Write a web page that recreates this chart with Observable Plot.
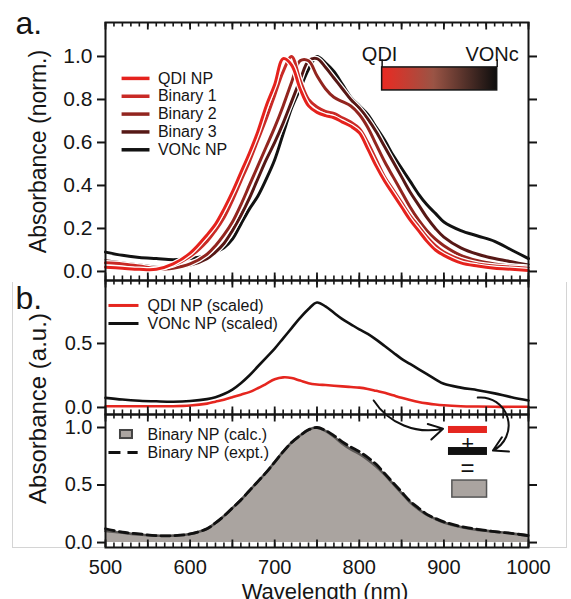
<!DOCTYPE html>
<html><head><meta charset="utf-8">
<script src="https://cdn.jsdelivr.net/npm/d3@7"></script>
<script src="https://cdn.jsdelivr.net/npm/@observablehq/plot@0.6"></script>
<style>
html,body{margin:0;padding:0;background:#fff;}
#fig{position:relative;width:571px;height:599px;overflow:hidden;background:#fff;}
#fig svg{position:absolute;left:0;}
#crop{position:absolute;left:12px;top:282px;width:553px;height:265px;border:1px solid #d4d4d4;border-top:none;}
</style></head><body><div id="fig"><div id="crop"></div></div>
<script>
// ---------- data ----------
const wavelength = [500,520,540,560,580,600,620,630,640,650,660,670,680,690,700,710,720,730,740,750,760,770,780,790,800,810,820,830,840,850,860,870,880,890,900,920,940,960,980,1000];
// panel a (normalized)
const qdiNP   = [0.02,0.015,0.01,0.01,0.035,0.085,0.17,0.22,0.29,0.37,0.46,0.55,0.65,0.77,0.87,0.99,0.96,0.85,0.77,0.74,0.725,0.715,0.695,0.675,0.645,0.57,0.49,0.42,0.36,0.30,0.24,0.19,0.14,0.10,0.075,0.04,0.025,0.015,0.01,0.005];
const binary1 = [0.04,0.035,0.025,0.015,0.03,0.07,0.14,0.19,0.25,0.33,0.42,0.51,0.61,0.71,0.82,0.93,1.0,0.89,0.80,0.765,0.745,0.735,0.715,0.695,0.665,0.60,0.52,0.44,0.38,0.32,0.26,0.21,0.16,0.12,0.09,0.055,0.035,0.025,0.02,0.015];
const binary2 = [0.03,0.025,0.015,0.01,0.015,0.035,0.08,0.12,0.17,0.23,0.31,0.40,0.49,0.58,0.67,0.77,0.88,0.98,0.98,0.91,0.85,0.81,0.79,0.77,0.73,0.67,0.59,0.51,0.44,0.37,0.30,0.24,0.19,0.15,0.12,0.075,0.05,0.035,0.025,0.02];
const binary3 = [0.05,0.04,0.03,0.02,0.02,0.03,0.06,0.09,0.13,0.19,0.26,0.34,0.43,0.52,0.60,0.69,0.79,0.89,0.98,0.99,0.95,0.90,0.85,0.80,0.76,0.71,0.65,0.58,0.51,0.44,0.37,0.31,0.25,0.20,0.16,0.11,0.08,0.06,0.045,0.03];
const voncNP  = [0.09,0.075,0.065,0.06,0.055,0.06,0.075,0.09,0.11,0.15,0.22,0.29,0.35,0.43,0.52,0.64,0.76,0.85,0.94,1.0,0.97,0.93,0.87,0.81,0.77,0.73,0.67,0.61,0.54,0.48,0.42,0.36,0.31,0.27,0.23,0.19,0.165,0.14,0.10,0.06];
// panel b (scaled)
const qdiScaled  = [0.01,0.01,0.01,0.01,0.01,0.015,0.03,0.045,0.06,0.08,0.10,0.12,0.15,0.185,0.22,0.235,0.23,0.21,0.19,0.18,0.175,0.17,0.165,0.16,0.155,0.145,0.13,0.115,0.095,0.075,0.058,0.043,0.032,0.023,0.017,0.01,0.007,0.005,0.005,0.005];
const voncScaled = [0.075,0.062,0.053,0.048,0.045,0.05,0.065,0.08,0.105,0.14,0.19,0.25,0.32,0.39,0.46,0.54,0.62,0.70,0.77,0.82,0.79,0.74,0.69,0.65,0.61,0.575,0.53,0.48,0.43,0.38,0.34,0.30,0.26,0.22,0.185,0.155,0.135,0.11,0.08,0.055];
// panel c (binary)
const binaryCalc = [0.10,0.085,0.07,0.06,0.06,0.075,0.12,0.17,0.23,0.30,0.37,0.45,0.53,0.61,0.70,0.79,0.87,0.93,0.98,1.0,0.97,0.92,0.86,0.81,0.77,0.72,0.66,0.59,0.51,0.43,0.35,0.29,0.24,0.205,0.175,0.135,0.11,0.095,0.08,0.06];
const binaryExpt = [0.12,0.09,0.075,0.06,0.06,0.075,0.12,0.17,0.23,0.30,0.37,0.45,0.53,0.61,0.70,0.79,0.87,0.93,0.98,1.0,0.975,0.93,0.875,0.83,0.79,0.74,0.68,0.60,0.52,0.44,0.36,0.30,0.245,0.21,0.18,0.14,0.115,0.095,0.08,0.06];

const seriesA = ["QDI NP","Binary 1","Binary 2","Binary 3","VONc NP"];
const seriesB = ["QDI NP (scaled)","VONc NP (scaled)"];
const seriesC = ["Binary NP (calc.)","Binary NP (expt.)"];
const ticksA = [0,0.2,0.4,0.6,0.8,1.0];
const ticksB = [0,0.5];
const ticksC = [0,0.5,1.0];
const xLabels = [500,600,700,800,900,1000];
const colorbarLabels = ["QDI","VONc"];

// ---------- styles ----------
const FONT = "'Liberation Sans', Arial, Helvetica, sans-serif";
const INK = "#151515";
const colorsA = ["#e5221d","#c92a26","#92251f","#561816","#121212"];
const RED = "#e5261f", GRAY = "#aaa4a0", EDGE = "#5a5755";
const minorX = d3.range(500, 1001, 10);
const majorX = d3.range(500, 1001, 50);
const rows = (vals, name) => wavelength.map((wl, i) => ({wl, v: vals[i], name}));
const fig = document.getElementById("fig");

function frameMarks(yTicks, yDomain, innerH, tickFont) {
  const blank = () => "";
  const [y0, y1] = yDomain;
  const unit = (y1 - y0) / innerH; // data units per pixel
  const inward = (ticks, len, side, sw) =>
    Plot.ruleX(ticks, {x: d => d,
      y1: side === "top" ? y1 : y0,
      y2: side === "top" ? y1 - len * unit : y0 + len * unit,
      stroke: INK, strokeWidth: sw});
  return [
    inward(minorX, 4.5, "top", 1.6),
    inward(majorX, 7.5, "top", 1.8),
    inward(minorX, 4.5, "bottom", 1.6),
    inward(majorX, 7.5, "bottom", 1.8),
    Plot.axisY(yTicks, {anchor: "left", tickSize: 8, tickPadding: 5, tickFormat: ".1f", label: null, fontSize: tickFont, strokeWidth: 2, stroke: INK, fill: INK}),
    Plot.axisY(yTicks, {anchor: "right", tickSize: 8, tickFormat: blank, label: null, strokeWidth: 2, stroke: INK}),
    Plot.frame({stroke: INK, strokeWidth: 2})
  ];
}

function panel({top, height, marginTop, marginBottom, yDomain, yTicks, tickFont, marks}) {
  const innerH = height - marginTop - marginBottom;
  const svg = Plot.plot({
    width: 571, height, marginLeft: 105, marginRight: 43, marginTop, marginBottom,
    x: {domain: [500, 1000], axis: null, label: null},
    y: {domain: yDomain, axis: null, label: null},
    color: {type: "identity"},
    style: {fontFamily: FONT, color: INK, background: "transparent", overflow: "visible"},
    marks: [...marks, ...frameMarks(yTicks, yDomain, innerH, tickFont)]
  });
  svg.style.position = "absolute";
  svg.style.top = top + "px";
  svg.style.left = "0px";
  fig.appendChild(svg);
  return svg;
}

// ---------- panel a ----------
const valuesA = [qdiNP, binary1, binary2, binary3, voncNP];
const dataA = seriesA.map((name, k) => rows(valuesA[k], name));
const lineMarksA = [4,3,2,1,0].flatMap(k => [
  Plot.line(dataA[k], {x: "wl", y: "v", stroke: "white", strokeWidth: 5.5, curve: "catmull-rom"}),
  Plot.line(dataA[k], {x: "wl", y: "v", stroke: colorsA[k], strokeWidth: 3, curve: "catmull-rom"})
]);
const legA = seriesA.map((name, i) => ({name, color: colorsA[i], y: 0.898 - i * 0.083}));
const svgA = panel({
  top: 0, height: 300, marginTop: 22, marginBottom: 20,
  yDomain: [-0.042, 1.158], yTicks: ticksA, tickFont: 21,
  marks: [
    ...lineMarksA,
    Plot.link(legA, {x1: 519, x2: 552, y1: "y", y2: "y", stroke: "color", strokeWidth: 3.5}),
    Plot.text(legA, {x: 562, y: "y", text: "name", textAnchor: "start", fontSize: 16, fill: INK}),
    Plot.rect([0], {x1: 827, x2: 963, y1: 0.842, y2: 0.949, fill: "url(#qdiVoncGrad)", stroke: INK, strokeWidth: 1.5}),
    Plot.ruleX([827, 963], {y1: 0.949, y2: 0.985, stroke: INK, strokeWidth: 1.5}),
    Plot.text(colorbarLabels, {x: (d, i) => i ? 957 : 824, y: 1.01, text: d => d, fontSize: 20, fill: INK}),
    Plot.text(["a."], {text: d => d, frameAnchor: "top-left", dx: -90, dy: 11, textAnchor: "start", lineAnchor: "bottom", fontSize: 32, fill: INK}),
    Plot.text(["Absorbance (norm.)"], {text: d => d, frameAnchor: "left", dx: -67, rotate: -90, textAnchor: "middle", lineAnchor: "middle", fontSize: 23, fill: INK})
  ]
});
d3.select(svgA).append("defs").html(
  `<linearGradient id="qdiVoncGrad" x1="0" x2="1" y1="0" y2="0">
     <stop offset="0" stop-color="#ea2a22"/>
     <stop offset="0.45" stop-color="#9a5445"/>
     <stop offset="1" stop-color="#0e0e0e"/>
   </linearGradient>`);

// ---------- panel b ----------
const dataB = [rows(qdiScaled, seriesB[0]), rows(voncScaled, seriesB[1])];
const colorsB = [RED, "#111"];
const legB = seriesB.map((name, i) => ({name, color: colorsB[i], y: 0.797 - i * 0.141}));
panel({
  top: 260, height: 170, marginTop: 20, marginBottom: 16,
  yDomain: [-0.055, 0.992], yTicks: ticksB, tickFont: 20,
  marks: [
    Plot.line(dataB[1], {x: "wl", y: "v", stroke: colorsB[1], strokeWidth: 2.6, curve: "catmull-rom"}),
    Plot.line(dataB[0], {x: "wl", y: "v", stroke: colorsB[0], strokeWidth: 2.6, curve: "catmull-rom"}),
    Plot.link(legB, {x1: 503.5, x2: 539, y1: "y", y2: "y", stroke: "color", strokeWidth: 3}),
    Plot.text(legB, {x: 549.6, y: "y", text: "name", textAnchor: "start", fontSize: 16, fill: INK}),
    Plot.text(["b."], {text: d => d, frameAnchor: "top-left", dx: -90, dy: 28, textAnchor: "start", lineAnchor: "bottom", fontSize: 32, fill: INK})
  ]
});

// ---------- panel c ----------
const calcRows = rows(binaryCalc, seriesC[0]);
const exptRows = rows(binaryExpt, seriesC[1]);
panel({
  top: 400, height: 199, marginTop: 14, marginBottom: 52,
  yDomain: [-0.043, 1.113], yTicks: ticksC, tickFont: 20,
  marks: [
    Plot.areaY(calcRows, {x: "wl", y: "v", fill: GRAY, curve: "catmull-rom"}),
    Plot.line(calcRows, {x: "wl", y: "v", stroke: EDGE, strokeWidth: 2.6, curve: "catmull-rom"}),
    Plot.line(exptRows, {x: "wl", y: "v", stroke: "#111", strokeWidth: 2.8, strokeDasharray: "9,5", curve: "catmull-rom"}),
    // legend
    Plot.rect([0], {x1: 517.7, x2: 531.9, y1: 0.904, y2: 0.974, fill: GRAY, stroke: "#444", strokeWidth: 2}),
    Plot.link([0], {x1: 503.5, x2: 538, y1: 0.783, y2: 0.783, stroke: "#111", strokeWidth: 3, strokeDasharray: "12,7"}),
    Plot.text(seriesC, {x: 549.6, y: (d, i) => i ? 0.783 : 0.939, text: d => d, textAnchor: "start", fontSize: 16, fill: INK}),
    // equation sketch
    Plot.arrow([0], {x1: 817, y1: 1.235, x2: 899, y2: 0.99, bend: -35, stroke: "#111", strokeWidth: 2, headLength: 12}),
    Plot.arrow([0], {x1: 940, y1: 1.26, x2: 958, y2: 0.80, bend: 80, stroke: "#111", strokeWidth: 2, headLength: 12}),
    Plot.rect([0], {x1: 905.4, x2: 951.5, y1: 0.948, y2: 1.009, fill: RED}),
    Plot.rect([0], {x1: 905.4, x2: 951.5, y1: 0.757, y2: 0.826, fill: "#111"}),
    Plot.rect([0], {x1: 910, x2: 951, y1: 0.391, y2: 0.539, fill: GRAY, stroke: "#555", strokeWidth: 1.5}),
    Plot.text(["+"], {text: d => d, x: 928, y: 0.86, fontSize: 22, fill: "#111"}),
    Plot.text(["="], {text: d => d, x: 928, y: 0.643, fontSize: 24, fill: "#111"}),
    // axis labels
    Plot.axisX(xLabels, {anchor: "bottom", tickSize: 0, tickPadding: 12, tickFormat: d => String(d), label: null, fontSize: 20, fill: INK}),
    Plot.text(["Wavelength (nm)"], {text: d => d, frameAnchor: "bottom", dx: 8, dy: 44, textAnchor: "middle", lineAnchor: "middle", fontSize: 22, fill: INK}),
    Plot.text(["Absorbance (a.u.)"], {text: d => d, frameAnchor: "top-left", dx: -67, dy: -6, rotate: -90, textAnchor: "middle", lineAnchor: "middle", fontSize: 24, fill: INK})
  ]
});
</script></body></html>
